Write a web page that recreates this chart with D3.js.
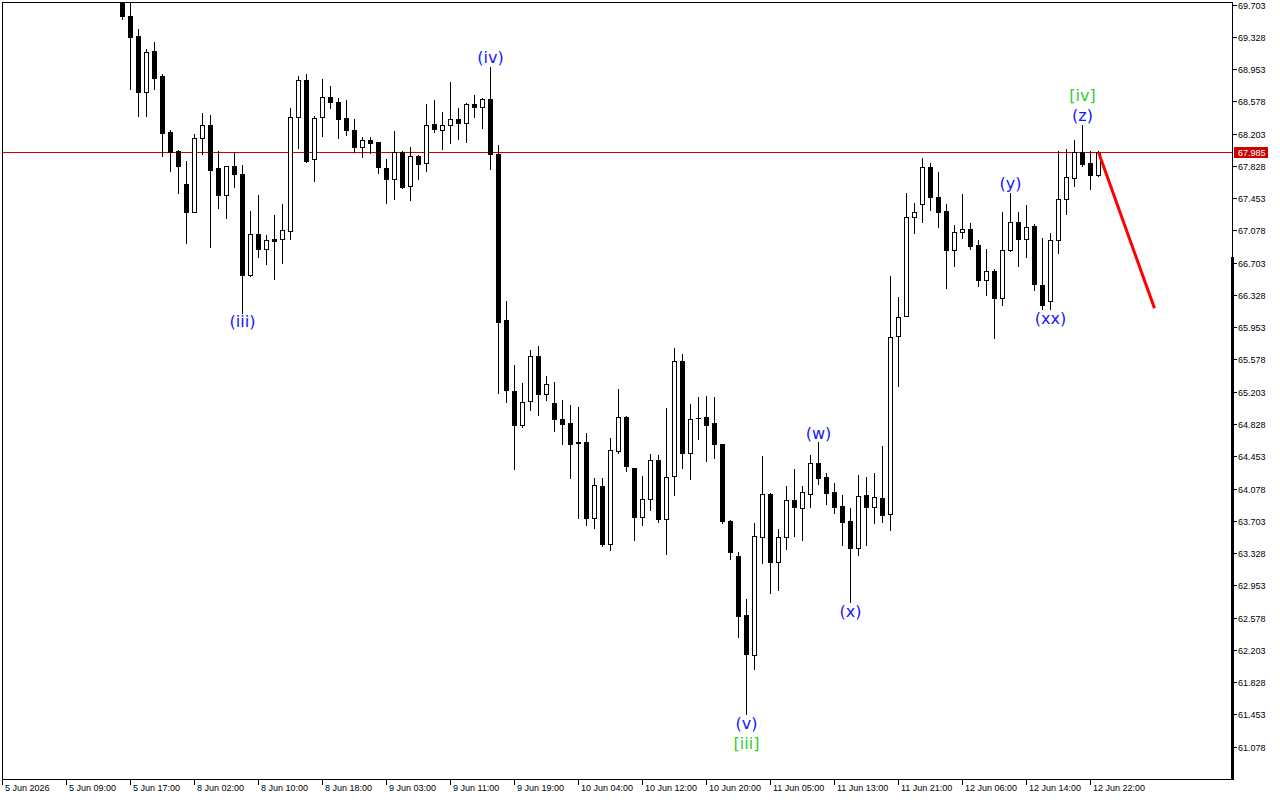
<!DOCTYPE html>
<html><head><meta charset="utf-8">
<script src="https://cdn.jsdelivr.net/npm/d3@7"></script>
<style>html,body{margin:0;padding:0;background:#fff;overflow:hidden}</style>
</head><body><svg id="c" width="1280" height="800"></svg>
<script>
// ---------- DATA ----------
const firstBar = 15; // bars 0..14 are above the visible price range
const opens = [69.870,69.569,69.337,68.683,69.163,68.872,68.221,68.000,67.617,67.295,68.148,68.299,67.800,67.493,67.826,67.733,66.563,67.033,66.858,66.978,66.974,67.071,68.392,68.822,67.904,68.392,68.625,68.567,68.384,68.241,68.044,68.125,68.105,67.800,67.672,67.985,67.590,67.942,67.858,68.311,68.245,68.299,68.372,68.322,68.543,68.508,68.601,67.962,66.037,65.212,64.820,65.092,65.615,65.180,65.072,64.886,64.836,64.615,64.619,63.739,64.104,63.437,64.518,64.906,64.313,63.751,63.953,64.406,63.721,64.220,65.557,64.495,64.898,64.906,64.836,64.596,63.697,63.294,62.608,62.147,63.511,64.011,63.224,63.511,63.945,63.855,64.018,64.375,64.212,64.038,63.875,63.701,63.390,64.003,63.867,63.965,63.782,65.847,66.080,67.230,67.381,67.811,67.463,67.303,66.854,67.063,67.098,66.905,66.505,66.610,66.296,66.854,67.179,66.981,67.129,66.443,66.254,66.970,67.439,67.683,67.985,67.858,67.725];
const highs = [69.930,69.750,69.418,69.186,69.264,68.895,68.245,68.012,67.884,68.198,68.442,68.419,68.000,67.830,67.989,67.838,67.303,67.489,67.024,67.257,67.385,68.500,68.869,68.895,68.407,68.837,68.756,68.613,68.593,68.372,68.163,68.163,68.105,67.908,68.233,68.000,68.047,67.954,68.547,68.593,68.450,68.802,68.504,68.558,68.651,68.616,68.977,68.070,66.257,65.514,65.305,65.688,65.734,65.386,65.316,65.107,65.049,65.026,64.720,64.200,64.200,64.665,65.235,64.918,64.313,64.224,64.479,64.464,65.014,65.708,65.638,65.057,65.138,65.150,65.138,64.596,63.709,63.340,62.794,63.677,64.456,64.023,63.608,64.108,64.305,64.108,64.468,64.615,64.259,64.139,64.003,63.848,64.232,64.209,64.259,64.572,66.548,66.300,67.509,67.393,67.916,67.858,67.753,67.381,67.137,67.501,67.160,66.963,66.862,66.633,67.292,67.516,67.292,67.373,67.152,66.993,67.048,68.004,68.020,68.128,68.303,67.997,68.000];
const lows = [69.531,68.718,68.411,68.411,68.718,67.946,67.772,67.516,66.935,67.288,67.962,66.888,67.342,67.225,67.586,66.121,66.548,66.772,66.687,66.510,66.703,66.981,68.039,67.876,67.655,68.178,68.504,68.155,68.187,67.985,67.927,67.981,67.748,67.393,67.446,67.567,67.435,67.679,67.772,68.218,68.027,68.097,68.143,68.109,68.392,68.271,67.791,65.185,65.080,64.309,64.797,64.991,64.933,65.110,64.750,64.599,64.204,63.739,63.658,63.623,63.414,63.367,64.495,64.285,63.483,63.658,63.829,63.693,63.321,64.006,64.320,64.192,64.657,64.402,64.436,63.672,63.263,62.356,61.454,61.977,63.216,62.861,62.899,63.379,63.530,63.480,63.867,64.131,63.898,63.797,63.422,62.756,63.306,63.422,63.681,63.693,63.596,65.273,66.078,67.044,67.179,67.315,67.121,66.412,66.668,66.993,66.865,66.435,66.331,65.831,66.214,66.842,66.668,66.772,66.389,66.161,66.161,66.819,67.272,67.597,67.830,67.562,67.714];
const closes = [69.569,69.329,68.690,69.148,68.852,68.213,67.992,67.830,67.288,68.148,68.299,67.783,67.493,67.826,67.730,66.563,67.033,66.858,66.966,66.958,67.079,68.392,68.822,67.884,68.381,68.625,68.567,68.369,68.241,68.044,68.125,68.090,67.811,67.672,67.985,67.586,67.942,67.846,68.299,68.253,68.299,68.372,68.322,68.543,68.508,68.601,67.962,66.017,65.223,64.820,65.080,65.615,65.180,65.289,64.890,64.832,64.599,64.607,63.739,64.116,63.437,64.522,64.906,64.343,63.751,63.953,64.406,63.728,64.209,65.557,64.495,64.883,64.898,64.820,64.592,63.704,63.344,62.600,62.151,63.526,64.011,63.224,63.515,63.945,63.867,64.038,64.375,64.204,64.030,63.867,63.693,63.390,63.988,63.867,63.976,63.774,65.843,66.068,67.230,67.288,67.811,67.463,67.295,66.854,67.063,67.098,66.900,66.505,66.610,66.296,66.854,67.179,66.981,67.121,66.458,66.214,66.970,67.439,67.695,67.985,67.853,67.725,67.985];

const currentPrice = 67.985;
const timeLabels = ["5 Jun 2026","5 Jun 09:00","5 Jun 17:00","8 Jun 02:00","8 Jun 10:00","8 Jun 18:00","9 Jun 03:00","9 Jun 11:00","9 Jun 19:00","10 Jun 04:00","10 Jun 12:00","10 Jun 20:00","11 Jun 05:00","11 Jun 13:00","11 Jun 21:00","12 Jun 06:00","12 Jun 14:00","12 Jun 22:00"];
const timeLabelStep = 8; // bars between time labels
const priceTicks = [61.078,61.453,61.828,62.203,62.578,62.953,63.328,63.703,64.078,64.453,64.828,65.203,65.578,65.953,66.328,66.703,67.078,67.453,67.828,68.203,68.578,68.953,69.328,69.703];

const waveText  = ["(iii)","(iv)","(v)","[iii]","(w)","(x)","(y)","(xx)","(z)","[iv]"];
const waveBar   = [30, 61, 93, 93, 102, 106, 126, 131, 135, 135];
const waveSide  = ["below","above","below","below","above","below","above","below","above","above"];
const waveLevel = [0, 0, 0, 1, 0, 0, 0, 0, 0, 1];
const waveDegree= ["minor","minor","minor","major","minor","minor","minor","minor","minor","major"];

const forecastBars = [137, 144];
const forecastPrices = [67.985, 66.172];

// ---------- LAYOUT ----------
const L = 2, T = 2, R = 1232, B = 779;
const svg = d3.select("#c");
const x = d3.scaleLinear().domain([0, 153.75]).range([L, R]);
const y = d3.scaleLinear().domain([61.078, 69.703]).range([746.7, 4.5]);

svg.append("rect").attr("width",1280).attr("height",800).attr("fill","#fff");

svg.append("defs").append("clipPath").attr("id","plot")
  .append("rect").attr("x",L).attr("y",T).attr("width",R-L).attr("height",B-T);

const candles = opens.map((o,k)=>({i:firstBar+k,o,h:highs[k],l:lows[k],c:closes[k]}));

const g = svg.append("g").attr("clip-path","url(#plot)").attr("shape-rendering","crispEdges");

// current price line
g.append("line").attr("x1",L).attr("x2",R)
  .attr("y1",Math.round(y(currentPrice))+0.5).attr("y2",Math.round(y(currentPrice))+0.5)
  .attr("stroke","#cc0000").attr("stroke-width",1);

candles.forEach(d=>{
  const cx = Math.round(x(d.i));
  g.append("line").attr("x1",cx+0.5).attr("x2",cx+0.5)
    .attr("y1",Math.round(y(d.h))).attr("y2",Math.round(y(d.l))+1)
    .attr("stroke","#000").attr("stroke-width",1);
  const top = Math.round(y(Math.max(d.o,d.c)));
  const bot = Math.round(y(Math.min(d.o,d.c)));
  if (d.c > d.o) {
    g.append("rect").attr("x",cx-1.5).attr("y",top+0.5)
      .attr("width",4).attr("height",Math.max(1,bot-top))
      .attr("fill","#fff").attr("stroke","#000").attr("stroke-width",1);
  } else {
    g.append("rect").attr("x",cx-2).attr("y",top)
      .attr("width",5).attr("height",Math.max(1,bot-top+1))
      .attr("fill","#000");
  }
});

// forecast line
svg.append("line")
  .attr("x1",x(forecastBars[0])+0.5).attr("y1",y(forecastPrices[0]))
  .attr("x2",x(forecastBars[1])+0.5).attr("y2",y(forecastPrices[1]))
  .attr("stroke","#ff0000").attr("stroke-width",3);

// frame
const frame = svg.append("g").attr("shape-rendering","crispEdges");
frame.append("line").attr("x1",L+0.5).attr("x2",L+0.5).attr("y1",T).attr("y2",B+1).attr("stroke","#000");
frame.append("line").attr("x1",L).attr("x2",R+1).attr("y1",T+0.5).attr("y2",T+0.5).attr("stroke","#000");
frame.append("line").attr("x1",L).attr("x2",R+1).attr("y1",B+0.5).attr("y2",B+0.5).attr("stroke","#000");
frame.append("line").attr("x1",R+0.5).attr("x2",R+0.5).attr("y1",T).attr("y2",B+1).attr("stroke","#000");
frame.append("rect").attr("x",R-1).attr("y",257).attr("width",3).attr("height",B-257+1).attr("fill","#000");

// price axis (right)
const yAxis = svg.append("g").attr("shape-rendering","crispEdges");
priceTicks.forEach(p=>{
  const yy = Math.round(y(p));
  yAxis.append("line").attr("x1",R).attr("x2",R+5).attr("y1",yy+0.5).attr("y2",yy+0.5).attr("stroke","#000");
  yAxis.append("text").attr("x",R+6).attr("y",yy+3.5)
    .attr("font-family","'Liberation Sans', Arial, sans-serif").attr("font-size",9)
    .attr("fill","#000").text(d3.format(".3f")(p));
});
// current price tag
const cy = Math.round(y(currentPrice));
svg.append("rect").attr("x",R+2).attr("y",cy-5).attr("width",34).attr("height",11).attr("fill","#cc0000");
svg.append("text").attr("x",R+6).attr("y",cy+3.5)
  .attr("font-family","'Liberation Sans', Arial, sans-serif").attr("font-size",9)
  .attr("fill","#fff").text(d3.format(".3f")(currentPrice));

// time axis (bottom)
const xAxis = svg.append("g").attr("shape-rendering","crispEdges");
timeLabels.forEach((t,k)=>{
  const xx = Math.round(x(k*timeLabelStep));
  xAxis.append("line").attr("x1",xx+0.5).attr("x2",xx+0.5).attr("y1",B).attr("y2",B+6).attr("stroke","#000");
  xAxis.append("text").attr("x",xx+3).attr("y",B+12)
    .attr("font-family","'Liberation Sans', Arial, sans-serif").attr("font-size",9)
    .attr("fill","#000").text(t);
});

// wave labels
waveText.forEach((t,k)=>{
  const d = candles[waveBar[k]-firstBar];
  const off = 9 + 20*waveLevel[k];
  const yy = waveSide[k]==="above" ? y(d.h)-off : y(d.l)+off;
  svg.append("text").attr("x",x(waveBar[k])+0.5).attr("y",yy)
    .attr("text-anchor","middle").attr("dominant-baseline","central")
    .attr("font-family","'DejaVu Sans', sans-serif").attr("font-size",16)
    .attr("fill", waveDegree[k]==="major" ? "#32cd32" : "#1515ff")
    .text(t);
});
</script>
</body></html>
